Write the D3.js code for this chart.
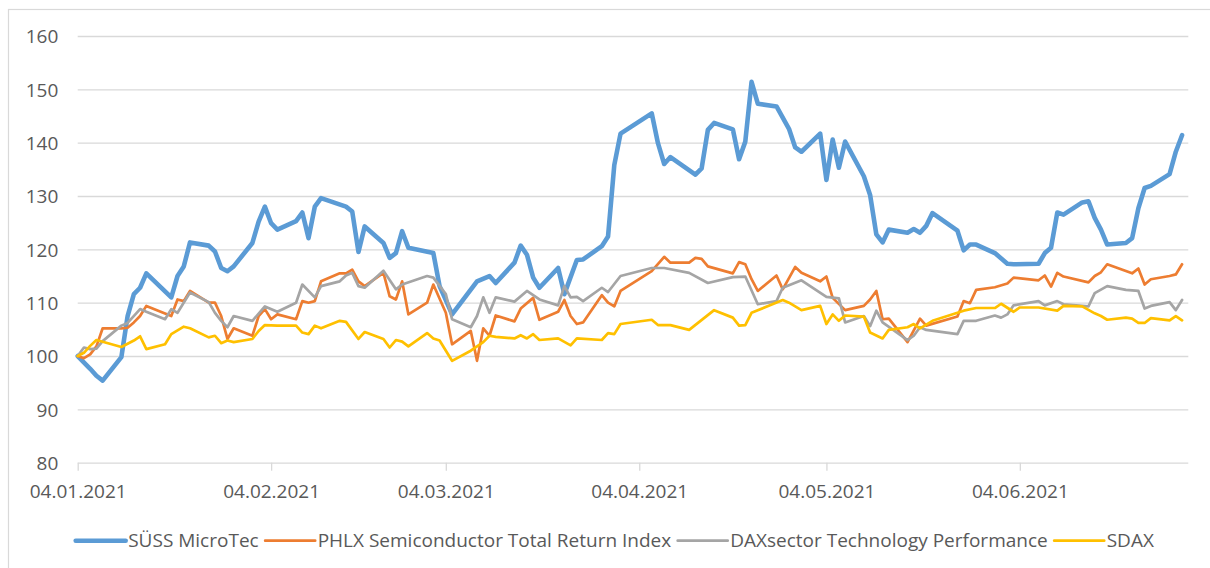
<!DOCTYPE html>
<html><head><meta charset="utf-8">
<script src="https://cdn.jsdelivr.net/npm/d3@7"></script>
<style>body{margin:0;background:#fff}svg{display:block}</style>
</head><body>
<svg id="chart" width="1210" height="568"></svg>
<script>
// ---------- DATA ----------
const seriesNames = ["SÜSS MicroTec", "PHLX Semiconductor Total Return Index", "DAXsector Technology Performance", "SDAX"];
const yTickValues = [80, 90, 100, 110, 120, 130, 140, 150, 160];
const xTickDates = ["2021-01-04", "2021-02-04", "2021-03-04", "2021-04-04", "2021-05-04", "2021-06-04"];

const sussMicroTec = [["01-04",100],["01-06",97.6],["01-07",96.3],["01-08",95.4],["01-11",99.8],["01-12",107.5],["01-13",111.6],["01-14",112.8],["01-15",115.5],["01-19",111],["01-20",115],["01-21",116.8],["01-22",121.3],["01-25",120.7],["01-26",119.6],["01-27",116.5],["01-28",115.9],["01-29",116.8],["02-01",121.2],["02-02",125.2],["02-03",128],["02-04",124.9],["02-05",123.7],["02-08",125.3],["02-09",126.9],["02-10",122.1],["02-11",128],["02-12",129.6],["02-16",128],["02-17",127.1],["02-18",119.5],["02-19",124.3],["02-22",121.2],["02-23",118.4],["02-24",119.3],["02-25",123.4],["02-26",120.3],["03-02",119.3],["03-03",113.1],["03-04",110.5],["03-05",107.8],["03-09",114],["03-11",115],["03-12",113.7],["03-15",117.5],["03-16",120.7],["03-17",119],["03-18",114.7],["03-19",112.8],["03-22",116.5],["03-23",111.6],["03-25",118],["03-26",118.1],["03-29",120.6],["03-30",122.4],["03-31",135.8],["04-01",141.7],["04-06",145.5],["04-07",139.9],["04-08",136],["04-09",137.3],["04-13",134],["04-14",135.2],["04-15",142.4],["04-16",143.7],["04-19",142.5],["04-20",136.9],["04-21",140.2],["04-22",151.4],["04-23",147.3],["04-26",146.8],["04-28",142.6],["04-29",139.1],["04-30",138.3],["05-03",141.7],["05-04",133],["05-05",140.6],["05-06",135.3],["05-07",140.2],["05-10",133.7],["05-11",130.2],["05-12",122.8],["05-13",121.3],["05-14",123.7],["05-17",123.1],["05-18",123.8],["05-19",123.1],["05-20",124.4],["05-21",126.8],["05-25",123.5],["05-26",119.8],["05-27",120.9],["05-28",120.9],["05-31",119.3],["06-02",117.3],["06-03",117.2],["06-07",117.3],["06-08",119.3],["06-09",120.3],["06-10",126.9],["06-11",126.5],["06-14",128.8],["06-15",129],["06-16",125.9],["06-17",123.7],["06-18",120.9],["06-21",121.2],["06-22",122.1],["06-23",127.7],["06-24",131.5],["06-25",131.9],["06-28",134.1],["06-29",138.3],["06-30",141.4]];

const phlxSemi = [["01-04",100],["01-05",99.6],["01-06",100.3],["01-07",101.8],["01-08",105.2],["01-11",105.2],["01-12",105.3],["01-13",106.3],["01-14",107.5],["01-15",109.4],["01-19",107.5],["01-20",110.6],["01-21",110.3],["01-22",112.2],["01-25",110],["01-26",110],["01-27",107.5],["01-28",103.2],["01-29",105.2],["02-01",103.8],["02-02",107.5],["02-03",108.8],["02-04",106.9],["02-05",107.8],["02-08",106.9],["02-09",110.3],["02-10",110],["02-11",110.3],["02-12",114],["02-15",115.5],["02-16",115.5],["02-17",116.2],["02-18",114],["02-19",113.1],["02-22",115.6],["02-23",111.2],["02-24",110.6],["02-25",114],["02-26",107.8],["03-01",110],["03-02",113.4],["03-04",108.1],["03-05",102.2],["03-08",104.7],["03-09",99.1],["03-10",105.2],["03-11",103.8],["03-12",107.6],["03-15",106.5],["03-16",108.9],["03-18",110.9],["03-19",106.8],["03-22",108.3],["03-23",110.5],["03-24",107.5],["03-25",106],["03-26",106.3],["03-29",111.4],["03-30",110],["03-31",109.3],["04-01",112.2],["04-06",115.9],["04-08",118.6],["04-09",117.5],["04-12",117.5],["04-13",118.4],["04-14",118.2],["04-15",116.8],["04-19",115.5],["04-20",117.6],["04-21",117.2],["04-22",114.4],["04-23",112.2],["04-26",115.1],["04-27",112.5],["04-29",116.7],["04-30",115.6],["05-03",114],["05-04",114.9],["05-05",110.9],["05-07",108.6],["05-10",109.4],["05-11",110.6],["05-12",112.2],["05-13",106.9],["05-14",107],["05-17",102.6],["05-19",107],["05-20",105.7],["05-25",107.4],["05-26",110.3],["05-27",109.9],["05-28",112.4],["05-31",112.9],["06-02",113.6],["06-03",114.7],["06-07",114.2],["06-08",115.1],["06-09",113],["06-10",115.6],["06-11",114.9],["06-15",113.8],["06-16",115],["06-17",115.7],["06-18",117.2],["06-22",115.5],["06-23",116.4],["06-24",113.4],["06-25",114.4],["06-28",115],["06-29",115.3],["06-30",117.2]];

const daxTech = [["01-04",100],["01-05",101.6],["01-06",101.3],["01-07",101.4],["01-08",102.8],["01-11",105.7],["01-12",106.2],["01-14",108.8],["01-15",108.3],["01-18",106.9],["01-19",108.8],["01-20",108.1],["01-22",111.9],["01-25",110.1],["01-26",108.1],["01-27",106.6],["01-28",105.4],["01-29",107.5],["02-01",106.6],["02-03",109.3],["02-05",108.3],["02-08",110],["02-09",113.4],["02-11",111],["02-12",113.1],["02-15",114],["02-16",115.1],["02-17",115.6],["02-18",113.1],["02-19",112.8],["02-22",116],["02-24",112.5],["02-25",113.4],["03-01",115],["03-02",114.7],["03-04",111.6],["03-05",106.9],["03-08",105.4],["03-09",107.5],["03-10",111],["03-11",108.1],["03-12",111],["03-15",110.2],["03-17",112.2],["03-19",110.6],["03-22",109.5],["03-23",113.1],["03-24",111],["03-25",111.1],["03-26",110.3],["03-29",112.8],["03-30",112],["04-01",115],["04-06",116.5],["04-08",116.5],["04-12",115.6],["04-15",113.7],["04-19",114.8],["04-21",114.9],["04-23",109.7],["04-26",110.3],["04-27",112.8],["04-30",114.2],["05-04",111.1],["05-06",110.8],["05-07",106.3],["05-10",107.5],["05-11",105.6],["05-12",108.5],["05-13",106.3],["05-17",103],["05-18",103.8],["05-19",105.4],["05-20",104.9],["05-25",104.1],["05-26",106.6],["05-28",106.6],["05-31",107.6],["06-01",107.2],["06-02",107.8],["06-03",109.5],["06-07",110.3],["06-08",109.5],["06-10",110.3],["06-11",109.7],["06-15",109.3],["06-16",111.8],["06-18",113.1],["06-21",112.4],["06-23",112.2],["06-24",108.9],["06-25",109.4],["06-28",110.1],["06-29",108.6],["06-30",110.5]];

const sdax = [["01-04",100],["01-05",100.6],["01-06",101.9],["01-07",103],["01-11",101.7],["01-13",102.9],["01-14",103.7],["01-15",101.3],["01-18",102.2],["01-19",104.1],["01-21",105.5],["01-22",105.2],["01-25",103.5],["01-26",103.8],["01-27",102.4],["01-28",102.9],["01-29",102.6],["02-01",103.2],["02-02",104.7],["02-03",105.8],["02-05",105.7],["02-08",105.7],["02-09",104.4],["02-10",104.1],["02-11",105.7],["02-12",105.2],["02-15",106.6],["02-16",106.4],["02-18",103.2],["02-19",104.5],["02-22",103.2],["02-23",101.6],["02-24",103],["02-25",102.7],["02-26",101.8],["03-01",104.3],["03-02",103.3],["03-03",102.9],["03-05",99.1],["03-08",101],["03-10",102.6],["03-11",103.8],["03-12",103.6],["03-15",103.3],["03-16",103.9],["03-17",103.3],["03-18",104.1],["03-19",103],["03-22",103.3],["03-24",102],["03-25",103.3],["03-29",103],["03-30",104.3],["03-31",104.1],["04-01",106],["04-06",106.8],["04-07",105.8],["04-09",105.8],["04-12",104.9],["04-16",108.6],["04-19",107.2],["04-20",105.7],["04-21",105.8],["04-22",108.1],["04-27",110.5],["04-28",110],["04-30",108.6],["05-03",109.4],["05-04",106],["05-05",107.8],["05-06",106.6],["05-07",107.6],["05-10",107.4],["05-11",104.4],["05-13",103.3],["05-14",104.9],["05-17",105.4],["05-18",106],["05-19",105.2],["05-21",106.6],["05-25",108.1],["05-26",108.5],["05-28",109],["05-31",109],["06-01",109.8],["06-03",108.3],["06-04",109.1],["06-07",109.1],["06-10",108.5],["06-11",109.4],["06-14",109.3],["06-16",108],["06-17",107.5],["06-18",106.8],["06-21",107.2],["06-22",107],["06-23",106.2],["06-24",106.2],["06-25",107.1],["06-28",106.7],["06-29",107.5],["06-30",106.7]];

const seriesData = [sussMicroTec, phlxSemi, daxTech, sdax];

// ---------- STYLE / LAYOUT ----------
const colors = ["#5B9BD5", "#ED7D31", "#A5A5A5", "#FFC000"];
const widths = [4.6, 2.7, 2.7, 2.7];
const FONT = "'Open Sans', 'Noto Sans', sans-serif";
const TEXT = "#595959";
const GRID = "#D9D9D9";
const plot = {left: 77.7, right: 1188.3, top: 36, bottom: 462.7};

const parse = d3.timeParse("%Y-%m-%d");
const svg = d3.select("#chart");

svg.append("rect").attr("x", 0).attr("y", 0).attr("width", 1210).attr("height", 568).attr("fill", "#fff");
svg.append("rect").attr("x", 8.5).attr("y", 9.5).attr("width", 1400).attr("height", 800)
  .attr("fill", "none").attr("stroke", GRID).attr("stroke-width", 1.2);

const x = d3.scaleTime()
  .domain([parse("2021-01-04"), parse("2021-07-01")])
  .range([plot.left, plot.right]);
const y = d3.scaleLinear().domain([80, 160]).range([plot.bottom, plot.top]);

// Y axis with gridlines
const yAxis = svg.append("g").attr("transform", `translate(${plot.left},0)`)
  .call(d3.axisLeft(y).tickValues(yTickValues).tickSize(-(plot.right - plot.left)).tickPadding(19.4).tickFormat(d3.format("d")));
yAxis.select(".domain").remove();
yAxis.selectAll(".tick line").attr("stroke", GRID).attr("stroke-width", 1.3);
yAxis.selectAll(".tick text").attr("fill", TEXT).style("font-family", FONT).style("font-size", "19px").attr("dy", "0.36em");

// X axis
const xAxis = svg.append("g").attr("transform", `translate(0,${plot.bottom})`)
  .call(d3.axisBottom(x).tickValues(xTickDates.map(parse)).tickSize(8).tickPadding(14.1).tickFormat(d3.timeFormat("%d.%m.%Y")));
xAxis.select(".domain").remove();
xAxis.selectAll(".tick line").attr("stroke", GRID).attr("stroke-width", 1.3);
xAxis.selectAll(".tick text").attr("fill", TEXT).style("font-family", FONT).style("font-size", "19px");

// Lines
const line = d3.line().x(d => x(parse("2021-" + d[0]))).y(d => y(d[1]));
seriesData.forEach((s, i) => {
  svg.append("path").datum(s).attr("d", line).attr("fill", "none")
    .attr("stroke", colors[i]).attr("stroke-width", widths[i])
    .attr("stroke-linejoin", "round").attr("stroke-linecap", "round");
});

// Legend
const legend = svg.append("g");
const sampleLen = 50, gapAfterSample = 2.5, gapAfterText = 6.5;
const legendY = 540.7;
const items = seriesNames.map((name, i) => {
  const g = legend.append("g");
  g.append("line").attr("x1", 0).attr("x2", sampleLen).attr("y1", legendY).attr("y2", legendY)
    .attr("stroke", colors[i]).attr("stroke-width", widths[i]).attr("stroke-linecap", "round");
  const t = g.append("text").attr("x", sampleLen + gapAfterSample).attr("y", legendY + 6.3)
    .attr("fill", TEXT).style("font-family", FONT).style("font-size", "19px").text(name);
  return {g, w: sampleLen + gapAfterSample + t.node().getComputedTextLength()};
});
const total = d3.sum(items, d => d.w) + gapAfterText * (items.length - 1);
let cx = 614.8 - total / 2;
items.forEach(it => { it.g.attr("transform", `translate(${cx},0)`); cx += it.w + gapAfterText; });
</script>
</body></html>
